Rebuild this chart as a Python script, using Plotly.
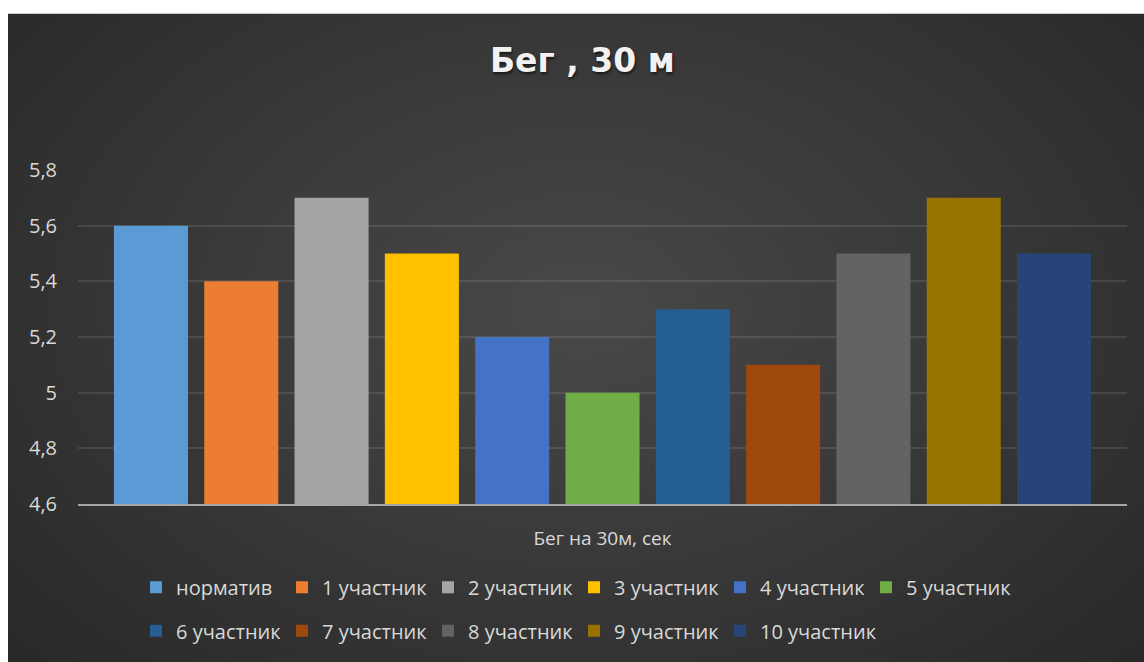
import plotly.graph_objects as go

category = ["Бег на 30м, сек"]
series_names = ["норматив", "1 участник", "2 участник", "3 участник", "4 участник",
                "5 участник", "6 участник", "7 участник", "8 участник", "9 участник",
                "10 участник"]
values = [5.6, 5.4, 5.7, 5.5, 5.2, 5.0, 5.3, 5.1, 5.5, 5.7, 5.5]
colors = ["#5b9bd5", "#ed7d31", "#a5a5a5", "#ffc000", "#4472c4", "#70ad47",
          "#255e91", "#9e480e", "#636363", "#997300", "#264478"]
y_ticks = [4.6, 4.8, 5.0, 5.2, 5.4, 5.6, 5.8]

W, H = 1144, 662
ML, MR, MT, MB = 78, 17, 170, 155
PW, PH = W - ML - MR, H - MT - MB
FONT = "'Open Sans', 'Noto Sans', sans-serif"

def px2x(px):
    return (px - ML) / PW

def py2y(py):
    return (H - MB - py) / PH

def legend_for(i):
    if i < 6:
        return "legend"
    if i < 10:
        return "legend2"
    return "legend3"

fig = go.Figure()
for i, (name, v, c) in enumerate(zip(series_names, values, colors)):
    fig.add_trace(go.Bar(x=category, y=[v - 4.6], base=4.6, name=name,
                         marker=dict(color=c, line=dict(width=0)),
                         legend=legend_for(i),
                         hovertemplate="%{y}<extra>" + name + "</extra>"))

shapes = []
shapes.append(dict(type="rect", xref="paper", yref="paper", layer="below",
                   x0=px2x(8), x1=px2x(W + 5), y0=py2y(H + 5), y1=py2y(12),
                   fillcolor="#262626", line=dict(width=0)))
N = 34
cx, cy = 580, 310
for i in range(N):
    f = 1 - i / N
    rx, ry = 820 * f, 560 * f
    shapes.append(dict(type="circle", xref="paper", yref="paper", layer="below",
                       x0=px2x(cx - rx), x1=px2x(cx + rx),
                       y0=py2y(cy + ry), y1=py2y(cy - ry),
                       fillcolor="rgba(255,255,255,0.0075)", line=dict(width=0)))
shapes.append(dict(type="rect", xref="paper", yref="paper", layer="below",
                   x0=px2x(-5), x1=px2x(8), y0=py2y(H + 5), y1=py2y(-5),
                   fillcolor="white", line=dict(width=0)))
shapes.append(dict(type="rect", xref="paper", yref="paper", layer="below",
                   x0=px2x(-5), x1=px2x(W + 5), y0=py2y(12), y1=py2y(-5),
                   fillcolor="white", line=dict(width=0)))

legend_common = dict(orientation="h", xanchor="left", yanchor="middle",
                     entrywidth=101, entrywidthmode="pixels", traceorder="normal",
                     font=dict(size=20, color="#d9d9d9", family=FONT), itemwidth=30,
                     bgcolor="rgba(0,0,0,0)")
legend_last = dict(legend_common)
legend_last.pop("entrywidth")
legend_last.pop("entrywidthmode")

fig.update_layout(
    width=W, height=H,
    margin=dict(l=ML, r=MR, t=MT, b=MB),
    paper_bgcolor="white",
    plot_bgcolor="rgba(0,0,0,0)",
    separators=", ",
    barmode="group",
    bargap=0.053,
    bargroupgap=0.18,
    font=dict(family=FONT, color="#d9d9d9", size=18),
    title=dict(text="<b>Бег , 30 м</b>", x=0.509, xanchor="center",
               y=1 - 60 / H, yanchor="middle", yref="container",
               font=dict(size=33, color="#f2f2f2", family="'DejaVu Sans', sans-serif",
                         shadow="1px 2px 3px rgba(0,0,0,0.6)")),
    xaxis=dict(showgrid=False, showline=True, linecolor="#a6a6a6", linewidth=2,
               ticks="", tickfont=dict(size=19, color="#d9d9d9"), ticklabelstandoff=16),
    yaxis=dict(range=[4.6, 5.8], tickvals=y_ticks, showgrid=True,
               gridcolor="rgba(255,255,255,0.1)", gridwidth=1.5, zeroline=False,
               showline=False, ticks="", tickfont=dict(size=20, color="#d9d9d9"),
               ticklabelstandoff=20),
    legend=dict(x=px2x(136), y=py2y(591), **legend_common),
    legend2=dict(x=px2x(136), y=py2y(635), **legend_common),
    legend3=dict(x=px2x(136 + 4 * 146), y=py2y(635), **legend_last),
    shapes=shapes,
    showlegend=True,
)

fig.write_html("out.html", config={"displayModeBar": False},
               post_script="document.body.style.margin='0px';")
